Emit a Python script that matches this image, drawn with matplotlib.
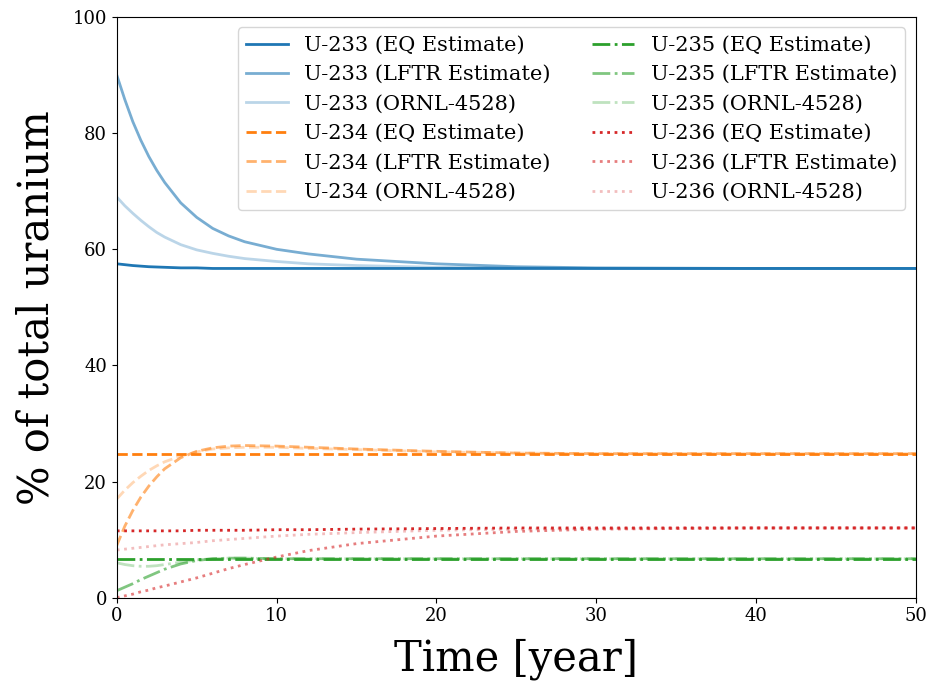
import matplotlib.pyplot as plt

plt.rcParams['font.family'] = 'DejaVu Serif'

# sample times [year]
t = [0, 0.5, 1, 1.5, 2, 2.5, 3, 4, 5, 6, 7, 8, 10, 12, 15, 20, 25, 30, 40, 50]

u233_eq   = [57.5, 57.35, 57.2, 57.1, 57.0, 56.95, 56.9, 56.8, 56.8, 56.7, 56.7, 56.7, 56.7, 56.7, 56.7, 56.7, 56.7, 56.7, 56.7, 56.7]
u233_lftr = [90.0, 85.8, 82.0, 78.8, 76.0, 73.6, 71.5, 68.0, 65.5, 63.6, 62.3, 61.3, 60.0, 59.2, 58.3, 57.5, 57.0, 56.8, 56.7, 56.7]
u233_ornl = [69.0, 67.5, 66.2, 65.0, 63.9, 62.9, 62.1, 60.8, 59.9, 59.3, 58.8, 58.4, 57.9, 57.5, 57.2, 56.9, 56.8, 56.7, 56.7, 56.7]

u234_eq   = [24.8] * 20
u234_lftr = [9.0, 12.3, 15.0, 17.3, 19.2, 20.8, 22.2, 24.1, 25.2, 25.8, 26.1, 26.2, 26.1, 25.9, 25.6, 25.2, 24.9, 24.8, 24.8, 24.8]
u234_ornl = [17.0, 18.5, 19.8, 20.9, 21.9, 22.7, 23.4, 24.4, 25.1, 25.6, 25.8, 25.9, 25.9, 25.7, 25.5, 25.1, 24.9, 24.8, 24.8, 24.8]

u235_eq   = [6.7] * 20
u235_lftr = [1.2, 1.8, 2.4, 3.1, 3.7, 4.3, 4.9, 5.8, 6.4, 6.7, 6.8, 6.8, 6.7, 6.7, 6.7, 6.7, 6.7, 6.7, 6.7, 6.7]
u235_ornl = [6.0, 5.7, 5.5, 5.4, 5.4, 5.5, 5.7, 6.1, 6.5, 6.7, 6.8, 6.8, 6.7, 6.7, 6.7, 6.7, 6.7, 6.7, 6.7, 6.7]

u236_eq   = [11.5, 11.5, 11.5, 11.5, 11.5, 11.5, 11.5, 11.5, 11.6, 11.6, 11.6, 11.6, 11.7, 11.7, 11.8, 11.9, 12.0, 12.0, 12.0, 12.0]
u236_lftr = [0.0, 0.3, 0.6, 1.0, 1.3, 1.7, 2.0, 2.7, 3.4, 4.2, 5.0, 5.7, 7.0, 8.1, 9.3, 10.6, 11.4, 11.8, 12.0, 12.0]
u236_ornl = [8.2, 8.35, 8.5, 8.65, 8.8, 8.95, 9.1, 9.3, 9.5, 9.8, 10.0, 10.2, 10.6, 10.9, 11.2, 11.6, 11.8, 11.9, 12.0, 12.0]

isotopes = ['U-233', 'U-234', 'U-235', 'U-236']
sources = ['EQ Estimate', 'LFTR Estimate', 'ORNL-4528']
series = [[u233_eq, u233_lftr, u233_ornl],
          [u234_eq, u234_lftr, u234_ornl],
          [u235_eq, u235_lftr, u235_ornl],
          [u236_eq, u236_lftr, u236_ornl]]
colors = ['#1f77b4', '#ff7f0e', '#2ca02c', '#d62728']
styles = ['-', '--', '-.', ':']
alphas = [1.0, 0.6, 0.3]

fig, ax = plt.subplots(figsize=(9.27, 6.83), dpi=100)
for iso, ys, c, ls in zip(isotopes, series, colors, styles):
    for src, y, a in zip(sources, ys, alphas):
        ax.plot(t, y, color=c, ls=ls, lw=2.0, alpha=a, label=f'{iso} ({src})')

ax.set_xlim(0, 50)
ax.set_ylim(0, 100)
ax.set_xlabel('Time [year]', fontsize=30, labelpad=9)
ax.set_ylabel('% of total uranium', fontsize=30, labelpad=11)
ax.tick_params(labelsize=13)
ax.legend(ncol=2, fontsize=15, loc='upper right', handlelength=2.0)
fig.subplots_adjust(left=0.126, right=0.988, top=0.975, bottom=0.125)
fig.savefig('out.png')
